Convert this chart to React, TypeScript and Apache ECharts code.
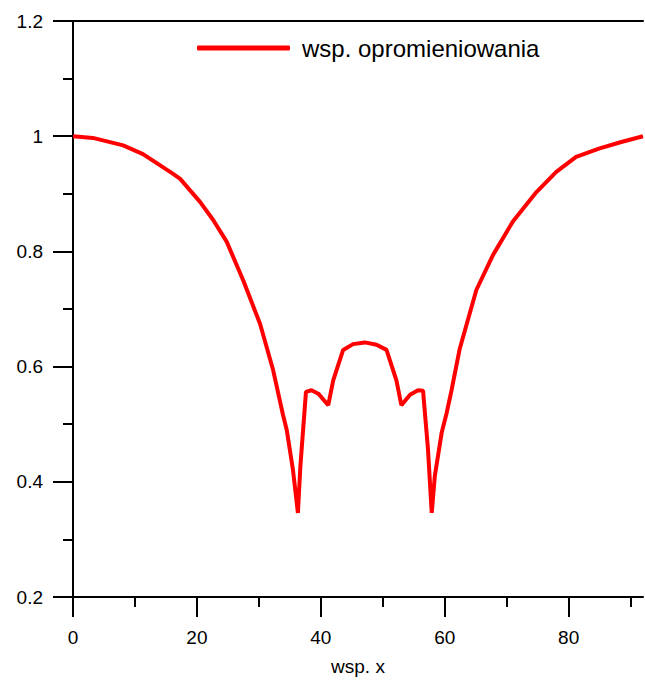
import React, { useEffect, useRef } from "react";
import * as echarts from "echarts";

// Irradiance coefficient along the x coordinate
const xValues = [
  0, 3.2, 8.1, 11.3, 16.1, 17.3, 20.5, 22.6, 24.8, 27.5, 30.2, 32.3, 33.9, 34.5,
  35.5, 36.3, 36.7, 37.6, 38.5, 39.6, 41.2, 42.0, 43.6, 45.2, 47.1, 49.0, 50.6,
  52.2, 53.0, 54.4, 55.7, 56.5, 57.3, 57.9, 58.4, 59.5, 60.3, 61.1, 62.4, 65.1,
  67.8, 71.0, 74.8, 78.0, 81.2, 85.0, 88.5, 92.0,
];
const coefValues = [
  1.0, 0.997, 0.984, 0.969, 0.935, 0.926, 0.886, 0.855, 0.817, 0.749, 0.674,
  0.594, 0.516, 0.49, 0.421, 0.346, 0.427, 0.556, 0.559, 0.553, 0.533, 0.576,
  0.629, 0.639, 0.642, 0.638, 0.629, 0.576, 0.533, 0.551, 0.559, 0.558, 0.456,
  0.346, 0.41, 0.485, 0.519, 0.559, 0.63, 0.733, 0.794, 0.852, 0.903, 0.938,
  0.964, 0.979, 0.99, 1.0,
];
const xMajorTicks = [0, 20, 40, 60, 80];
const xMinorTicks = [10, 30, 50, 70, 90];
const seriesName = "wsp. opromieniowania";
const xAxisTitle = "wsp. x";

const FONT = "Liberation Sans, Arial, sans-serif";

export default function App() {
  const ref = useRef<HTMLDivElement>(null);

  useEffect(() => {
    if (!ref.current) return;
    const chart = echarts.init(ref.current, null, { renderer: "svg" });
    const axisLine = { show: true, lineStyle: { color: "#000", width: 2 } };

    chart.setOption({
      animation: false,
      backgroundColor: "#fff",
      grid: { left: 73, top: 21, right: 2, bottom: 79, containLabel: false },
      legend: {
        left: 197,
        top: 36,
        padding: 0,
        data: [{ name: seriesName, icon: "roundRect" }],
        itemWidth: 93,
        itemHeight: 5,
        textStyle: {
          fontFamily: FONT,
          fontSize: 24,
          color: "#000",
          padding: [0, 0, 0, 7],
        },
      },
      xAxis: [
        {
          type: "value",
          min: 0,
          max: 92,
          position: "bottom",
          axisLine,
          axisTick: {
            show: true,
            length: 20,
            customValues: xMajorTicks,
            lineStyle: { color: "#000", width: 2 },
          },
          axisLabel: {
            customValues: xMajorTicks,
            margin: 31,
            fontFamily: FONT,
            fontSize: 19,
            color: "#000",
          },
          splitLine: { show: false },
          name: xAxisTitle,
          nameLocation: "middle",
          nameGap: 60,
          nameTextStyle: { fontFamily: FONT, fontSize: 19, color: "#000" },
        },
        {
          type: "value",
          min: 0,
          max: 92,
          position: "top",
          axisLine,
          axisTick: { show: false },
          axisLabel: { show: false },
          splitLine: { show: false },
        },
        {
          type: "value",
          min: 0,
          max: 92,
          position: "bottom",
          axisLine: { show: false },
          axisTick: {
            show: true,
            length: 10,
            customValues: xMinorTicks,
            lineStyle: { color: "#000", width: 2 },
          },
          axisLabel: { show: false },
          splitLine: { show: false },
        },
      ],
      yAxis: {
        type: "value",
        min: 0.2,
        max: 1.2,
        interval: 0.2,
        axisLine,
        axisTick: { show: true, length: 20, lineStyle: { color: "#000", width: 2 } },
        minorTick: {
          show: true,
          splitNumber: 2,
          length: 10,
          lineStyle: { color: "#000", width: 2 },
        },
        axisLabel: {
          margin: 30,
          fontFamily: FONT,
          fontSize: 19,
          color: "#000",
          formatter: (v: number) => String(Math.round(v * 10) / 10),
        },
        splitLine: { show: false },
      },
      series: [
        {
          name: seriesName,
          type: "line",
          xAxisIndex: 0,
          data: xValues.map((x, i) => [x, coefValues[i]]),
          showSymbol: false,
          symbol: "none",
          lineStyle: { color: "#ff0000", width: 4 },
          itemStyle: { color: "#ff0000" },
        },
      ],
    });

    return () => chart.dispose();
  }, []);

  return (
    <div
      ref={ref}
      style={{ position: "absolute", left: 0, top: 0, width: 645, height: 681 }}
    />
  );
}
